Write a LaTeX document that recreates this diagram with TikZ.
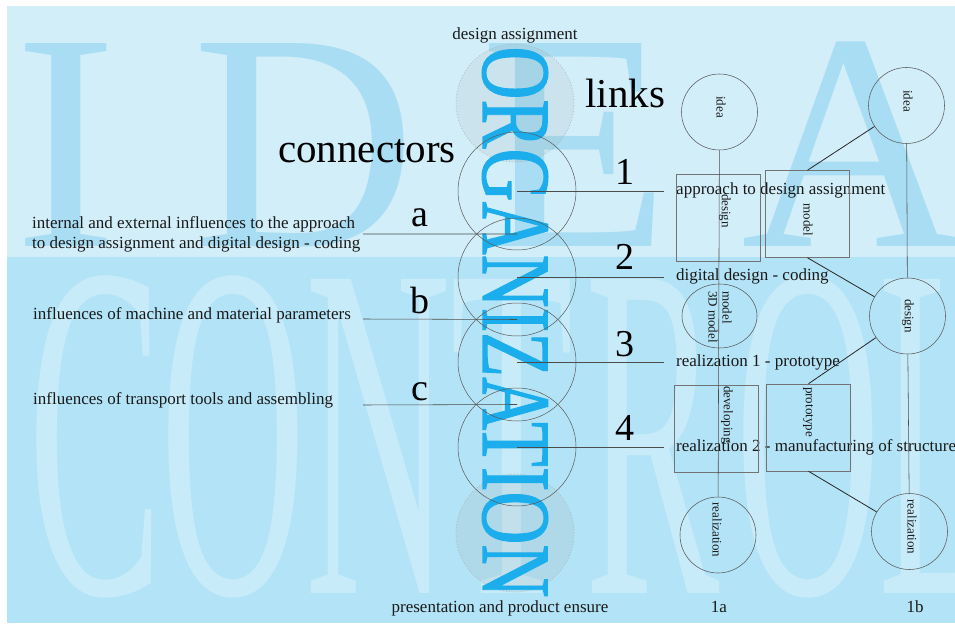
\documentclass[tikz,border=0pt]{standalone}
\usepackage{fontspec}
\setmainfont{Liberation Serif}
\newfontfamily\orgfont[FakeBold=1.2]{Liberation Serif}
\usetikzlibrary{calc,shapes.geometric}
\definecolor{topband}{HTML}{D2EEF9}
\definecolor{botband}{HTML}{B3E3F6}
\definecolor{idealetter}{HTML}{A9DDF3}
\definecolor{ctrlletter}{HTML}{C7EBF9}
\definecolor{orgblue}{HTML}{1CAEEC}
\tikzset{
  ideaL/.style={anchor=base west, inner sep=0, text=idealetter, font=\fontsize{310bp}{310bp}\selectfont},
  ctrlL/.style={anchor=base west, inner sep=0, text=ctrlletter, font=\fontsize{480bp}{480bp}\selectfont},
  smalltxt/.style={inner sep=0, text=black!90, font=\fontsize{17bp}{20bp}\selectfont},
  bigtxt/.style={inner sep=0, font=\fontsize{41bp}{41bp}\selectfont},
  numtxt/.style={inner sep=0, anchor=base, font=\fontsize{38bp}{38bp}\selectfont},
  conncirc/.style={circle, draw=black!65, line width=0.5bp, minimum size=118bp, inner sep=0},
  graycirc/.style={circle, fill=black!40, fill opacity=0.13, draw=black!35, draw opacity=0.6, dotted, line width=0.9bp, minimum size=118bp, inner sep=0},
  rtext/.style={font=\fontsize{17bp}{20bp}\selectfont, text=black!90, anchor=west, inner xsep=12bp, inner ysep=0, text height=12bp, text depth=4bp},
  wire/.style={draw=black!70, line width=0.55bp},
  link/.style={draw=black!85, line width=0.8bp},
  ncirc/.style={circle, draw=black!65, line width=0.55bp, minimum size=76bp, inner sep=0},
  nbox/.style={rectangle, draw=black!55, line width=0.55bp, inner sep=0, minimum width=84bp, minimum height=87bp},
  rotlab/.style={rotate=-90, inner sep=0, text=black!90, font=\fontsize{13bp}{14bp}\selectfont}
}
\begin{document}
\begin{tikzpicture}[x=1bp,y=-1bp]
\useasboundingbox (0,0) rectangle (955,629);
\fill[white] (0,0) rectangle (955,629);
\fill[topband] (7,6) rectangle (955,257);
\fill[botband] (7,257) rectangle (955,623);
% background words
\begin{scope}
  \clip (7,6) rectangle (955,257);
  \node[ideaL] (bgI) at (14,247) {I};
  \node[ideaL] (bgD) at (192,247) {D};
  \node[ideaL] (bgE) at (480,247) {E};
  \node[ideaL] (bgA) at (741,247) {A};
\end{scope}
\begin{scope}
  \clip (7,257) rectangle (955,623);
  \node[ctrlL] (bgC) at (28,593) {\scalebox{0.42}[1]{C}};
  \node[ctrlL] (bgO) at (160,593) {\scalebox{0.42}[1]{O}};
  \node[ctrlL] (bgN) at (305,593) {\scalebox{0.42}[1]{N}};
  \node[ctrlL] (bgT) at (450,593) {\scalebox{0.42}[1]{T}};
  \node[ctrlL] (bgR) at (585,593) {\scalebox{0.42}[1]{R}};
  \node[ctrlL] (bgO2) at (735,593) {\scalebox{0.42}[1]{O}};
  \node[ctrlL] (bgL) at (878,593) {\scalebox{0.42}[1]{L}};
\end{scope}
% grey end circles
\node[graycirc] (g1) at (515,103) {};
\node[graycirc] (g2) at (515,533) {};
% vertical word
\node[rotate=-90, inner sep=0, text=orgblue, font=\orgfont\fontsize{98bp}{98bp}\selectfont] (org) at (515,322) {\scalebox{0.75}[1]{ORGANIZATION}};
% connector circles
\node[conncirc] (c1) at (517,191) {};
\node[conncirc] (c2) at (517,277) {};
\node[conncirc] (c3) at (517,362) {};
\node[conncirc] (c4) at (517,447) {};
% headings
\node[smalltxt, anchor=base] (tda) at (515,40) {design assignment};
\node[smalltxt, anchor=base] (tpe) at (500,612) {presentation and product ensure};
\node[bigtxt, anchor=base west] (tconn) at (278,163) {connectors};
\node[bigtxt, anchor=base west] (tlinks) at (585,108) {links};
% numbers and letters
\node[numtxt] (n1) at (625,185) {1};
\node[numtxt] (n2) at (625,270) {2};
\node[numtxt] (n3) at (625,356) {3};
\node[numtxt] (n4) at (625,440) {4};
\node[numtxt] (la) at (420,227) {a};
\node[numtxt] (lb) at (420,313) {b};
\node[numtxt] (lc) at (420,400) {c};
% left texts
\node[smalltxt, anchor=west, align=left] (ta) at (32,234) {internal and external influences to the approach\\to design assignment and digital design - coding};
\node[smalltxt, anchor=base west] (tb) at (33,319) {influences of machine and material parameters};
\node[smalltxt, anchor=base west] (tc) at (33,404) {influences of transport tools and assembling};
\coordinate (aL) at (363,234);
\coordinate (bL) at (363,319);
\coordinate (cL) at (363,405);
\draw[wire] (aL) -- ($(c1.center)!0.5!(c2.center)$);
\draw[wire] (bL) -- ($(c2.center)!0.5!(c3.center)$);
\draw[wire] (cL) -- ($(c3.center)!0.5!(c4.center)$);
% right texts
\node[rtext] (t1) at (664,191) {approach to design assignment};
\node[rtext] (t2) at (664,277) {digital design - coding};
\node[rtext] (t3) at (664,362) {realization 1 - prototype};
\node[rtext] (t4) at (664,447) {realization 2 - manufacturing of structure};
\draw[wire] (c1.center) -- (t1.west);
\draw[wire] (c2.center) -- (t2.west);
\draw[wire] (c3.center) -- (t3.west);
\draw[wire] (c4.center) -- (t4.west);
% diagram 1a
\node[ncirc] (ia) at (719.5,112) {};
\node[nbox] (dsa) at (718,217.5) {};
\node[ellipse, draw=black!65, line width=0.55bp, minimum width=75bp, minimum height=64bp, inner sep=0] (ma) at (719.5,316) {};
\node[nbox] (dva) at (716.5,428.5) {};
\node[ncirc] (ra) at (718,535) {};
\draw[wire] (ia) -- (ra);
\node[rotlab] (tia) at (721,107) {idea};
\node[rotlab] (tdsa) at (725,211) {design};
\node[rotlab, align=left] (tma) at (720,317) {model\\3D model};
\node[rotlab] (tdva) at (727,415) {developing};
\node[rotlab] (tra) at (717,530) {realization};
% diagram 1b
\node[ncirc] (ib) at (906.5,105.5) {};
\node[nbox] (mb) at (807.5,214) {};
\node[ncirc] (db) at (907.5,316) {};
\node[nbox] (pb) at (808.5,427.5) {};
\node[ncirc] (rb) at (909.5,531.5) {};
\draw[link] (mb.north) -- (ib);
\draw[link] (mb.south) -- (db);
\draw[link] (pb.north) -- (db);
\draw[link] (pb.south) -- (rb);
\draw[wire] (ib) -- (db);
\draw[wire] (db) -- (rb);
\node[rotlab] (tib) at (908,101) {idea};
\node[rotlab] (tmb) at (808,220) {model};
\node[rotlab] (tdb) at (908,316) {design};
\node[rotlab] (tpb) at (808,412) {prototype};
\node[rotlab] (trb) at (912,527) {realization};
% captions
\node[smalltxt, anchor=base] (c1a) at (719,612) {1a};
\node[smalltxt, anchor=base] (c1b) at (915,612) {1b};
\end{tikzpicture}
\end{document}
